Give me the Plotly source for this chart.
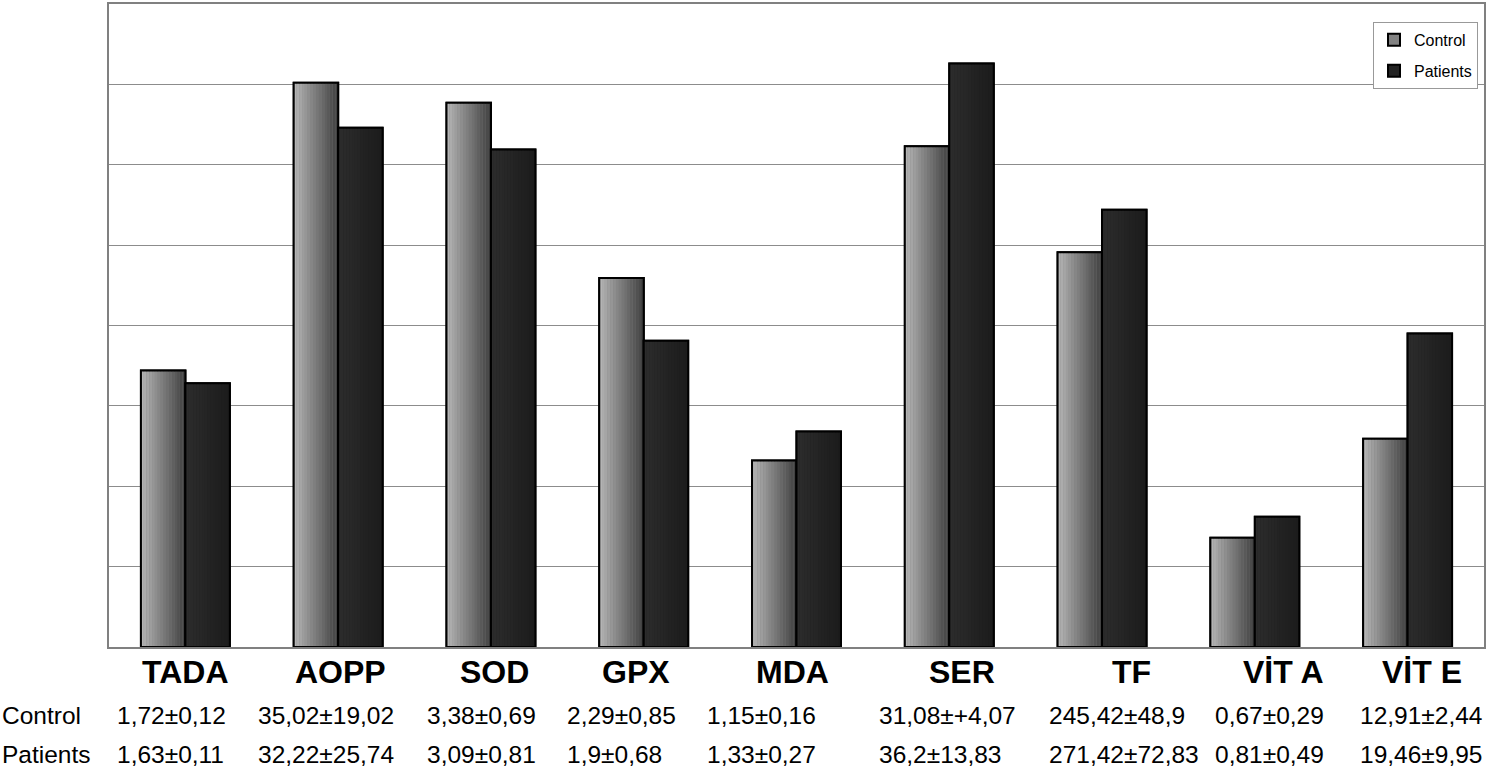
import plotly.graph_objects as go

# ---------------- data ----------------
categories = ["TADA", "AOPP", "SOD", "GPX", "MDA", "SER", "TF", "VİT A", "VİT E"]
# bar heights (gridline units)
control_heights = [3.44, 7.02, 6.77, 4.59, 2.32, 6.23, 4.91, 1.36, 2.59]
patient_heights = [3.28, 6.46, 6.19, 3.81, 2.68, 7.26, 5.44, 1.62, 3.90]
control_labels = ["1,72±0,12", "35,02±19,02", "3,38±0,69", "2,29±0,85", "1,15±0,16",
                  "31,08±+4,07", "245,42±48,9", "0,67±0,29", "12,91±2,44"]
patient_labels = ["1,63±0,11", "32,22±25,74", "3,09±0,81", "1,9±0,68", "1,33±0,27",
                  "36,2±13,83", "271,42±72,83", "0,81±0,49", "19,46±9,95"]
series_names = ["Control", "Patients"]

# ---------------- layout constants ----------------
W, H = 1491, 774
ML, MR, MT, MB = 109, 7, 2, 127
PW, PH = W - ML - MR, H - MT - MB
FONT = "Liberation Sans, Arial, sans-serif"

def px_x(px):
    return (px - ML) / PW

def px_y(py):
    return (H - MB - py) / PH

x_idx = list(range(len(categories)))
BW = 0.291  # bar width in category units
NSTRIP = 16

def interp(c0, c1, t):
    v = round(c0 + (c1 - c0) * t)
    return f"rgb({v},{v},{v})"

fig = go.Figure()

def add_series(heights, name, left, c0, c1, mid, group):
    off = -BW if left else 0.0
    # base trace (for legend swatch)
    fig.add_trace(go.Bar(
        x=x_idx, y=heights, width=[BW] * len(x_idx), offset=off,
        marker=dict(color=mid, line=dict(color="black", width=2)),
        name=name, showlegend=True, legendgroup=group, hoverinfo="skip"))
    sw = BW / NSTRIP
    for k in range(NSTRIP):
        t = k / (NSTRIP - 1)
        fig.add_trace(go.Bar(
            x=x_idx, y=heights, width=[sw * 1.02] * len(x_idx), offset=off + k * sw,
            marker=dict(color=interp(c0, c1, t), line=dict(width=0)),
            showlegend=False, legendgroup=group, hoverinfo="skip"))
    fig.add_trace(go.Bar(
        x=x_idx, y=heights, width=[BW] * len(x_idx), offset=off,
        marker=dict(color="rgba(0,0,0,0)", line=dict(color="black", width=2)),
        showlegend=False, legendgroup=group, hoverinfo="skip"))

add_series(control_heights, series_names[0], True, 180, 66, "rgb(130,130,130)", "c")
add_series(patient_heights, series_names[1], False, 44, 28, "rgb(34,34,34)", "p")

# ---------------- annotations ----------------
label_shift = [0, 2, 4, -8, -4, 13, 29, 29, 14]
value_left_px = [115, 256, 425, 565, 705, 877, 1047, 1213, 1358]
ann = []
for i, c in enumerate(categories):
    ann.append(dict(x=i, xref="x", y=px_y(672), yref="paper", text=f"<b>{c}</b>",
                    showarrow=False, xanchor="center", yanchor="middle", xshift=label_shift[i],
                    font=dict(family=FONT, size=32, color="black")))
    ann.append(dict(x=px_x(value_left_px[i]), xref="paper", y=px_y(716), yref="paper",
                    text=control_labels[i], showarrow=False, xanchor="left", yanchor="middle",
                    font=dict(family=FONT, size=24.5, color="black")))
    ann.append(dict(x=px_x(value_left_px[i]), xref="paper", y=px_y(755), yref="paper",
                    text=patient_labels[i], showarrow=False, xanchor="left", yanchor="middle",
                    font=dict(family=FONT, size=24.5, color="black")))
for name, py in zip(series_names, [716, 755]):
    ann.append(dict(x=px_x(0), xref="paper", y=px_y(py), yref="paper", text=name,
                    showarrow=False, xanchor="left", yanchor="middle",
                    font=dict(family=FONT, size=24.5, color="black")))

fig.update_layout(
    width=W, height=H,
    margin=dict(l=ML, r=MR, t=MT, b=MB, pad=0),
    paper_bgcolor="white", plot_bgcolor="white",
    barmode="overlay",
    font=dict(family=FONT, color="black"),
    annotations=ann,
    legend=dict(x=px_x(1478), y=px_y(20), xanchor="right", yanchor="top",
                bgcolor="white", bordercolor="#999999", borderwidth=1,
                font=dict(family=FONT, size=16, color="black"),
                itemwidth=30, traceorder="grouped", tracegroupgap=7),
    showlegend=True,
)
fig.update_xaxes(range=[-0.5, len(categories) - 0.5], showticklabels=False, showgrid=False,
                 zeroline=False, showline=True, linecolor="#808080", linewidth=2, mirror=True,
                 ticks="")
fig.update_yaxes(range=[0, 8], dtick=1, showticklabels=False, showgrid=True,
                 gridcolor="#8c8c8c", gridwidth=1, zeroline=False, showline=True,
                 linecolor="#808080", linewidth=2, mirror=True, ticks="")

fig.write_html("out.html", config={"displayModeBar": False},
               post_script="document.body.style.margin='0px';document.body.style.overflow='hidden';")
